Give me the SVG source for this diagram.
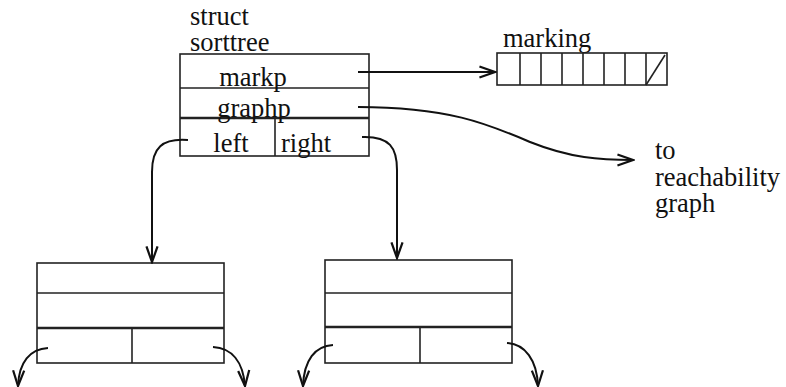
<svg xmlns="http://www.w3.org/2000/svg" width="786" height="387" viewBox="0 0 786 387">
<style>
text{font-family:"Liberation Serif","Times New Roman",serif;font-size:26.5px;fill:#111}
.box{fill:none;stroke:#222;stroke-width:1.6}
.div{stroke:#222;stroke-width:1.6}
.thick{stroke:#222;stroke-width:2.4}
.conn{fill:none;stroke:#111;stroke-width:2}
</style>
<defs>
<marker id="ah" markerUnits="userSpaceOnUse" markerWidth="20" markerHeight="20" viewBox="-16 -8 18 16" refX="0" refY="0" orient="auto">
<path d="M-14,-5 L0,0 L-14,5" fill="none" stroke="#111" stroke-width="2"/>
</marker>
</defs>
<rect width="786" height="387" fill="#fff"/>
<g id="sorttree">
<text x="190" y="25">struct</text>
<text x="190" y="51">sorttree</text>
<rect class="box" x="180" y="54" width="189" height="102"/>
<line class="div" x1="180" y1="88" x2="369" y2="88"/>
<line class="thick" x1="180" y1="118" x2="369" y2="118"/>
<line class="div" x1="275" y1="118" x2="275" y2="156"/>
<text x="253" y="86" text-anchor="middle">markp</text>
<text x="254" y="117" text-anchor="middle">graphp</text>
<text x="231" y="152" text-anchor="middle">left</text>
<text x="306" y="152" text-anchor="middle">right</text>
</g>
<g id="marking">
<text x="503" y="47">marking</text>
<rect class="box" x="497" y="53" width="170" height="32"/>
<line class="div" x1="520" y1="53" x2="520" y2="85"/>
<line class="div" x1="541" y1="53" x2="541" y2="85"/>
<line class="div" x1="562" y1="53" x2="562" y2="85"/>
<line class="div" x1="583" y1="53" x2="583" y2="85"/>
<line class="div" x1="604" y1="53" x2="604" y2="85"/>
<line class="div" x1="625" y1="53" x2="625" y2="85"/>
<line class="div" x1="646" y1="53" x2="646" y2="85"/>
<line class="div" x1="646" y1="85" x2="665" y2="55"/>
</g>
<g id="reach">
<text x="655" y="159">to</text>
<text x="655" y="186">reachability</text>
<text x="655" y="212">graph</text>
</g>
<g id="leftnode">
<rect class="box" x="37" y="263" width="187" height="100"/>
<line class="div" x1="37" y1="293" x2="224" y2="293"/>
<line class="thick" x1="37" y1="328" x2="224" y2="328"/>
<line class="div" x1="132" y1="328" x2="132" y2="363"/>
</g>
<g id="rightnode">
<rect class="box" x="325" y="260" width="187" height="103"/>
<line class="div" x1="325" y1="293" x2="512" y2="293"/>
<line class="thick" x1="325" y1="327" x2="512" y2="327"/>
<line class="div" x1="420" y1="327" x2="420" y2="363"/>
</g>
<g id="connectors">
<path class="conn" d="M358,72 L495,72" marker-end="url(#ah)"/>
<path class="conn" d="M358,107 C450,107 490,125 530,142 C570,158 600,160 633,160" marker-end="url(#ah)"/>
<path class="conn" d="M188,140 C162,138 152,148 152,172 L152,262" marker-end="url(#ah)"/>
<path class="conn" d="M362,137 C390,136 397,148 397,170 L397,258" marker-end="url(#ah)"/>
<path class="conn" d="M48,348 C30,349 19,362 18,386" marker-end="url(#ah)"/>
<path class="conn" d="M213,347 C232,348 243,362 245,386" marker-end="url(#ah)"/>
<path class="conn" d="M333,345 C315,346 304,360 303,386" marker-end="url(#ah)"/>
<path class="conn" d="M507,343 C525,344 537,360 538,386" marker-end="url(#ah)"/>
</g>
</svg>
